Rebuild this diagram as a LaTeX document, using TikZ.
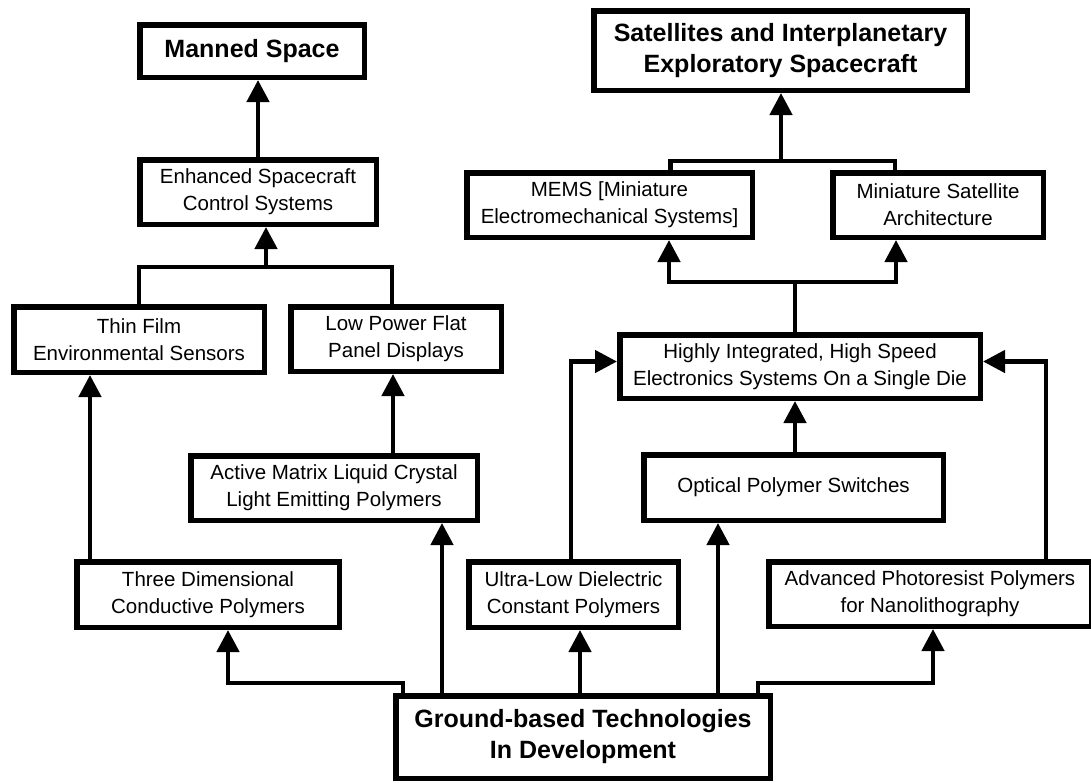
\documentclass[tikz,border=0pt]{standalone}
\usepackage{fontspec}
\setmainfont{Liberation Sans}
\usepackage{tikz}
\usetikzlibrary{arrows.meta}
\tikzset{
  goalbox/.style={draw, line width=5.5pt, fill=white, inner sep=0pt,
    align=center, font=\fontsize{25}{31}\selectfont\bfseries},
  techbox/.style={draw, line width=5.5pt, fill=white, inner sep=0pt,
    align=center, font=\fontsize{20.5}{27}\selectfont},
  link/.style={line width=4.5pt, line join=miter},
  arrow/.style={link, -{Triangle[length=22pt,width=22pt]}}
}
\begin{document}
\begin{tikzpicture}[x=1pt,y=-1pt]
  \useasboundingbox (0,0) rectangle (1091,782);
  \node[goalbox,minimum width=224.5pt,minimum height=52.5pt] (manned) at (252,51) {Manned Space};
  \node[goalbox,minimum width=373.5pt,minimum height=79.5pt] (sat) at (780.5,50.5) {Satellites and Interplanetary\\Exploratory Spacecraft};
  \node[techbox,minimum width=236.5pt,minimum height=64.5pt] (enh) at (258,192) {Enhanced Spacecraft\\Control Systems};
  \node[techbox,minimum width=285.5pt,minimum height=64.5pt] (mems) at (609.5,205) {MEMS [Miniature\\Electromechanical Systems]};
  \node[techbox,minimum width=210.5pt,minimum height=64.5pt] (mini) at (938,205) {Miniature Satellite\\Architecture};
  \node[techbox,minimum width=250.5pt,minimum height=65.5pt] (thin) at (139,339.5) {Thin Film\\Environmental Sensors};
  \node[techbox,minimum width=210.5pt,minimum height=64.5pt] (lowpow) at (396,339) {Low Power Flat\\Panel Displays};
  \node[techbox,minimum width=360.5pt,minimum height=63.5pt] (highly) at (800,366.5) {Highly Integrated, High Speed\\Electronics Systems On a Single Die};
  \node[techbox,minimum width=286.5pt,minimum height=64.5pt] (active) at (334,488) {Active Matrix Liquid Crystal\\Light Emitting Polymers};
  \node[techbox,minimum width=299.5pt,minimum height=65.5pt] (optical) at (793.5,487.5) {Optical Polymer Switches};
  \node[techbox,minimum width=262.5pt,minimum height=65.5pt] (three) at (208,594.5) {Three Dimensional\\Conductive Polymers};
  \node[techbox,minimum width=209.5pt,minimum height=65.5pt] (ultra) at (573.5,594.5) {Ultra-Low Dielectric\\Constant Polymers};
  \node[techbox,minimum width=322.5pt,minimum height=64.5pt] (adv) at (930,594) {Advanced Photoresist Polymers\\for Nanolithography};
  \node[goalbox,minimum width=374.5pt,minimum height=82.5pt] (ground) at (583,737) {Ground-based Technologies\\In Development};

  \coordinate (jl) at (266,267);
  \coordinate (js) at (781,161);
  \draw[arrow] (enh.north) -- (enh.north |- manned.south);
  \draw[link] (thin.north) |- (jl) -| ([xshift=-4pt]lowpow.north);
  \draw[arrow] (jl) -- (jl |- enh.south);
  \draw[arrow] ([xshift=-118pt]three.north) -- ([xshift=-118pt]three.north |- thin.south);
  \draw[arrow] ([xshift=59pt]active.north) -- ([xshift=59pt]active.north |- lowpow.south);

  \draw[link] ([xshift=61pt]mems.north) |- (js) -| ([xshift=-43pt]mini.north);
  \draw[arrow] (js) -- (js |- sat.south);
  \draw[link] ([xshift=-5pt]highly.north) -- ++(0,-50) coordinate (jr);
  \draw[arrow] (jr) -| ([xshift=59.5pt]mems.south);
  \draw[arrow] (jr) -| ([xshift=-42pt]mini.south);
  \draw[arrow] ([xshift=1.5pt]optical.north) -- ([xshift=1.5pt]optical.north |- highly.south);
  \draw[arrow] ([xshift=-2.5pt]ultra.north) |- ([yshift=5pt]highly.west);
  \draw[arrow] ([xshift=116pt]adv.north) |- ([yshift=5pt]highly.east);

  \draw[arrow] ([xshift=-180pt]ground.north) -- ++(0,-10) -| ([xshift=20pt]three.south);
  \draw[arrow] ([xshift=-141pt]ground.north) -- ([xshift=-141pt]ground.north |- active.south);
  \draw[arrow] ([xshift=-3pt]ground.north) -- ([xshift=-3pt]ground.north |- ultra.south);
  \draw[arrow] ([xshift=135pt]ground.north) -- ([xshift=135pt]ground.north |- optical.south);
  \draw[arrow] ([xshift=175pt]ground.north) -- ++(0,-10) -| ([xshift=3pt]adv.south);
\end{tikzpicture}
\end{document}
